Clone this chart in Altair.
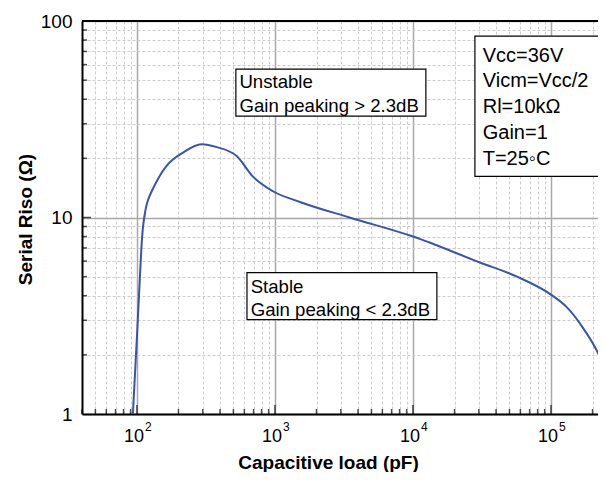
import altair as alt
import pandas as pd

# ---- data ----
cap_pF = [93.5, 100, 105, 108.7, 115.6, 121, 128, 144, 164, 216, 294, 380, 530, 690,
          968, 1517, 3470, 10000, 30600, 56700, 100000, 130000, 170000, 226000, 250000]
riso_ohm = [1.0, 2.47, 4.9, 7.72, 11.0, 12.4, 13.6, 16.0, 18.3, 21.4, 23.6, 22.8, 20.5, 16.2,
            13.6, 12.0, 10.0, 8.0, 5.9, 5.0, 4.05, 3.5, 2.75, 1.95, 1.64]

x_major = [100, 1000, 10000, 100000]
x_exponent = ["2", "3", "4", "5"]
x_minor = [40, 50, 60, 70, 80, 90,
           200, 300, 400, 500, 600, 700, 800, 900,
           2000, 3000, 4000, 5000, 6000, 7000, 8000, 9000,
           20000, 30000, 40000, 50000, 60000, 70000, 80000, 90000,
           200000]
y_major = [1, 10, 100]
y_minor = [2, 3, 4, 5, 6, 7, 8, 9, 20, 30, 40, 50, 60, 70, 80, 90]

unstable_lines = ["Unstable", "Gain peaking > 2.3dB"]
stable_lines = ["Stable", "Gain peaking < 2.3dB"]
cond_lines = ["Vcc=36V", "Vicm=Vcc/2", "Rl=10k\u03a9", "Gain=1", "T=25\u25e6C"]

# ---- annotation placement (data coordinates) ----
unstable_box = dict(x=521, x2=12400, y=56.9, y2=32.8)
unstable_text = dict(x=553, ys=[48.8, 36.8])
stable_box = dict(x=627, x2=14900, y=5.24, y2=3.02)
stable_text = dict(x=667, ys=[4.44, 3.39])
cond_box = dict(x=28100, x2=230000, y=83.8, y2=16.2)
cond_text = dict(x=32000, ys=[66.3, 49.4, 36.4, 26.8, 19.8])

FONT = "Liberation Sans"
XDOM = [40, 219000]
YDOM = [1, 100]

xs = alt.Scale(type="log", domain=XDOM, nice=False)
ys = alt.Scale(type="log", domain=YDOM, nice=False)

major_x_test = "indexof([100,1000,10000,100000], datum.value) >= 0"
major_y_test = "indexof([1,10,100], datum.value) >= 0"

x_axis = alt.Axis(
    values=sorted(x_major + x_minor), labels=False, ticks=False,
    domain=True, domainColor="black", domainWidth=2,
    grid=True,
    gridColor={"condition": {"test": major_x_test, "value": "#a8a8a8"}, "value": "#cccccc"},
    gridDash={"condition": {"test": major_x_test, "value": []}, "value": [3, 2]},
    gridWidth={"condition": {"test": major_x_test, "value": 1.5}, "value": 1},
    title="Capacitive load (pF)", titleFont=FONT, titleFontSize=19, titleFontWeight="bold",
    titleColor="black", titleX=246, titleY=48, titleBaseline="middle", titleAlign="center",
)
y_axis = alt.Axis(
    values=sorted(y_major + y_minor), ticks=False, tickSize=0,
    labelExpr=major_y_test + " ? format(datum.value, 'd') : ''",
    labelFont=FONT, labelFontSize=19, labelColor="black", labelPadding=10,
    labelOverlap=False, labelFlush=False, labelBound=False,
    domain=True, domainColor="black", domainWidth=2,
    grid=True,
    gridColor={"condition": {"test": major_y_test, "value": "#a8a8a8"}, "value": "#cccccc"},
    gridDash={"condition": {"test": major_y_test, "value": []}, "value": [3, 2]},
    gridWidth={"condition": {"test": major_y_test, "value": 1.5}, "value": 1},
    title="Serial Riso (\u03a9)", titleFont=FONT, titleFontSize=19, titleFontWeight="bold",
    titleColor="black", titleX=-57, titleY=198, titleBaseline="middle", titleAlign="center",
    titleAngle=270,
)

curve_df = pd.DataFrame({"c": cap_pF, "r": riso_ohm})
curve = alt.Chart(curve_df).mark_line(color="#3b55a3", strokeWidth=2, interpolate="monotone", clip=True).encode(
    x=alt.X("c:Q", scale=xs, axis=x_axis),
    y=alt.Y("r:Q", scale=ys, axis=y_axis),
)

def box(b):
    return alt.Chart(pd.DataFrame({"k": [0]})).mark_rect(
        fill="white", stroke="black", strokeWidth=1.2
    ).encode(x=alt.datum(b["x"]), x2=alt.datum(b["x2"]), y=alt.datum(b["y"]), y2=alt.datum(b["y2"]))

def lines(lst, t, size):
    df = pd.DataFrame({"t": lst, "x": [t["x"]] * len(lst), "y": t["ys"]})
    return alt.Chart(df).mark_text(
        font=FONT, fontSize=size, align="left", baseline="middle", color="black"
    ).encode(x="x:Q", y="y:Q", text="t:N")

xt_major_df = pd.DataFrame({"v": x_major, "e": x_exponent, "b": ["10"] * 4, "y": [1] * 4})
xt_minor_df = pd.DataFrame({"v": x_minor, "y": [1] * len(x_minor)})
yt_major_df = pd.DataFrame({"v": [10], "x": [40]})
yt_minor_df = pd.DataFrame({"v": y_minor, "x": [40] * len(y_minor)})

xtick_major = alt.Chart(xt_major_df).mark_tick(orient="vertical", size=9, thickness=1.5, color="black", yOffset=-4.5).encode(
    x="v:Q", y="y:Q")
xtick_minor = alt.Chart(xt_minor_df).mark_tick(orient="vertical", size=5, thickness=1.5, color="black", yOffset=-2.5).encode(
    x="v:Q", y="y:Q")
ytick_major = alt.Chart(yt_major_df).mark_tick(orient="horizontal", size=9, thickness=1.5, color="black", xOffset=4.5).encode(
    x="x:Q", y="v:Q")
ytick_minor = alt.Chart(yt_minor_df).mark_tick(orient="horizontal", size=5, thickness=1.5, color="black", xOffset=2.5).encode(
    x="x:Q", y="v:Q")

xlab_base = alt.Chart(xt_major_df).mark_text(font=FONT, fontSize=18, align="center", baseline="middle",
                                             dx=-3, dy=23, color="black").encode(x="v:Q", y="y:Q", text="b:N")
xlab_exp = alt.Chart(xt_major_df).mark_text(font=FONT, fontSize=12, align="left", baseline="middle",
                                            dx=8, dy=13, color="black").encode(x="v:Q", y="y:Q", text="e:N")

top_line = alt.Chart(pd.DataFrame({"k": [0]})).mark_rule(color="black", strokeWidth=2).encode(
    x=alt.datum(XDOM[0]), x2=alt.datum(XDOM[1]), y=alt.datum(YDOM[1]))

chart = alt.layer(
    curve,
    box(unstable_box), box(stable_box), box(cond_box),
    lines(unstable_lines, unstable_text, 18.6),
    lines(stable_lines, stable_text, 18.6),
    lines(cond_lines, cond_text, 20),
    xtick_major, xtick_minor, ytick_major, ytick_minor,
    xlab_base, xlab_exp, top_line,
).properties(
    width=516, height=393,
    autosize=alt.AutoSizeParams(type="none"),
    padding={"left": 74, "top": 13, "right": 0, "bottom": 58},
).configure_view(stroke=None).configure(background="white")

chart.save("out.html", embed_options={"renderer": "svg", "actions": False})
